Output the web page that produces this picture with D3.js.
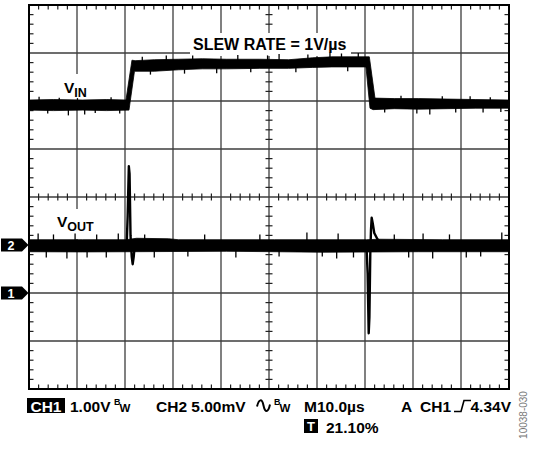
<!DOCTYPE html>
<html>
<head>
<meta charset="utf-8">
<script src="https://cdn.jsdelivr.net/npm/d3@7"></script>
<style>
  html, body { margin: 0; padding: 0; background: #fff; }
  svg { display: block; font-family: "Liberation Sans", Arial, Helvetica, sans-serif; }
</style>
</head>
<body>
<script>
// ---------- scope settings (from the readout) ----------
const timeDomain = [-21.1, 78.9];   // µs  (M10.0µs, trigger position 21.10%)
const ch1Domain = [-2, 6];          // V   (CH1 1.00V/div, ground marker 2 div below centre)
const ch2Domain = [-15, 25];        // mV  (CH2 5.00mV/div, ground marker 1 div below centre)
const divsX = 10, divsY = 8, minorPerDiv = 5;
const ch1Ground = 0, ch2Ground = 0;

// ---------- CH1 : V_IN envelope (time µs, volts) ----------
const vinTop = [
  [-21.1, 4.02], [-16, 4.03], [-10, 4.02], [-5, 4.03], [-0.9, 4.02],
  [0.35, 4.85], [1.0, 4.84], [5, 4.86], [10, 4.87], [15, 4.88], [20, 4.87],
  [27, 4.87], [33, 4.86], [38, 4.90], [42, 4.92], [46, 4.92], [49.8, 4.92],
  [50.98, 4.06], [55, 4.05], [60, 4.05], [66, 4.04], [72, 4.03], [78.9, 4.02]
];
const vinBottom = [
  [-21.1, 3.81], [-16, 3.80], [-10, 3.81], [-5, 3.80], [-0.27, 3.81],
  [0.875, 4.62], [5, 4.62], [10, 4.65], [15, 4.67], [20, 4.67],
  [27, 4.68], [33, 4.68], [38, 4.70], [42, 4.71], [49.1, 4.71],
  [49.94, 3.85], [50.6, 3.82], [55, 3.84], [60, 3.83], [66, 3.84], [72, 3.85], [78.9, 3.85]
];
// short noise spikes on the CH1 trace: [time, low V, high V]
const vinGlitches = [
  [-19.0, 3.90, 4.09], [-17.2, 3.74, 3.90], [-14.8, 3.90, 4.07], [-12.9, 3.70, 3.90],
  [-11.0, 3.90, 4.06], [-9.5, 3.72, 3.90], [-7.3, 3.75, 3.90], [-4.0, 3.90, 4.08],
  [-2.2, 3.74, 3.90], [2.5, 4.70, 4.92], [4.2, 4.55, 4.75], [7.5, 4.70, 4.95],
  [11.3, 4.57, 4.75], [13.0, 4.75, 4.95], [18.0, 4.58, 4.75], [22.4, 4.78, 4.96],
  [25.1, 4.60, 4.75], [28.6, 4.78, 4.95], [31.0, 4.78, 4.98], [34.5, 4.60, 4.75],
  [37.0, 4.80, 4.97], [41.6, 4.80, 5.01], [44.0, 4.80, 4.99], [45.3, 4.62, 4.78],
  [47.5, 4.80, 5.00], [53.0, 3.76, 3.90], [56.4, 3.95, 4.11], [59.7, 3.74, 3.90],
  [62.4, 3.72, 3.90], [65.0, 3.95, 4.10], [67.8, 3.76, 3.90], [70.8, 3.95, 4.10],
  [73.5, 3.76, 3.90], [75.0, 3.95, 4.08], [77.2, 3.77, 3.90]
];

// ---------- CH2 : V_OUT envelope (time µs, millivolts) ----------
const voutTop = [
  [-21.1, 0.55], [-10, 0.55], [-0.8, 0.55], [1.3, 0.70], [8, 0.65], [10, 0.55],
  [30, 0.55], [49.2, 0.55], [52, 0.60], [65, 0.55], [78.9, 0.55]
];
const voutBottom = [
  [-21.1, -0.70], [-10, -0.72], [0, -0.70], [20, -0.65], [40, -0.75],
  [60, -0.70], [78.9, -0.70]
];
// switching transients on V_OUT (time µs, mV)
const voutRiseTransient = [
  [-0.75, 0], [-0.55, 3.0], [-0.3, 8.2], [-0.15, 7.4], [0.05, 1.0],
  [0.3, -1.2], [0.5, -2.0], [0.72, -1.2], [0.95, 0.1], [1.25, 0.5]
];
const voutFallTransient = [
  [49.2, 0], [49.45, -3.0], [49.67, -9.2], [49.82, -7.5], [50.0, -1.0],
  [50.15, 1.6], [50.29, 2.84], [50.5, 2.3], [50.83, 1.25], [51.5, 0.6], [52.2, 0.3]
];
const voutGlitches = [
  [-19.2, 0, 1.2], [-17.5, -1.3, 0], [-16.0, 0, 1.1], [-13.2, -1.4, 0], [-11.5, 0, 1.2],
  [-9.0, -1.3, 0], [-7.0, 0, 1.1], [-5.0, -1.3, 0], [-2.5, 0, 1.2], [3.0, 0, 1.1],
  [5.0, -1.3, 0], [12.0, -1.2, 0], [15.5, 0, 1.1], [22.0, -1.3, 0], [27.0, 0, 1.1],
  [31.0, -1.2, 0], [36.8, 0, 1.3], [40.0, -1.2, 0], [43.0, -1.4, 0], [43.3, 0, 1.2],
  [46.5, -1.3, 0], [55.0, 0, 1.1], [58.0, -1.3, 0], [61.0, 0, 1.2], [63.0, -1.4, 0],
  [66.5, 0, 1.1], [70.0, -1.3, 0], [73.0, -1.2, 0], [77.4, 0, 1.3]
];

// ---------- text ----------
const slewLabel = "SLEW RATE = 1V/µs";
const readoutLine1 = { ch1Tag: "CH1", ch1Scale: "1.00V", ch2: "CH2 5.00mV", time: "M10.0µs",
                       trigA: "A", trigSrc: "CH1", trigLevel: "4.34V" };
const readoutLine2 = { tag: "T", pos: "21.10%" };
const figureId = "10038-030";

// ---------- layout ----------
const W = 533, H = 450;
const plot = { left: 29, right: 509, top: 5, bottom: 389 };

const svg = d3.select("body").append("svg").attr("width", W).attr("height", H);

const x = d3.scaleLinear().domain(timeDomain).range([plot.left, plot.right]);
const y1 = d3.scaleLinear().domain(ch1Domain).range([plot.bottom, plot.top]);
const y2 = d3.scaleLinear().domain(ch2Domain).range([plot.bottom, plot.top]);
const gx = d3.scaleLinear().domain([0, divsX]).range([plot.left, plot.right]);
const gy = d3.scaleLinear().domain([0, divsY]).range([plot.top, plot.bottom]);

// grid
const grid = svg.append("g");
grid.selectAll(".vx").data(d3.range(1, divsX)).join("line")
  .attr("x1", d => gx(d)).attr("x2", d => gx(d))
  .attr("y1", plot.top).attr("y2", plot.bottom)
  .attr("stroke", "#3c3c3c").attr("stroke-width", 1.3);
grid.selectAll(".hy").data(d3.range(1, divsY)).join("line")
  .attr("y1", d => gy(d)).attr("y2", d => gy(d))
  .attr("x1", plot.left).attr("x2", plot.right)
  .attr("stroke", "#3c3c3c").attr("stroke-width", 1.3);

// minor ticks
const minorX = d3.range(1, divsX * minorPerDiv).filter(i => i % minorPerDiv !== 0).map(i => i / minorPerDiv);
const minorY = d3.range(1, divsY * minorPerDiv).filter(i => i % minorPerDiv !== 0).map(i => i / minorPerDiv);
const tickCol = "#222";
const cy = gy(divsY / 2), cx = gx(divsX / 2);
grid.selectAll(".tcx").data(minorX).join("line")
  .attr("x1", d => gx(d)).attr("x2", d => gx(d)).attr("y1", cy - 3.5).attr("y2", cy + 3.5)
  .attr("stroke", tickCol).attr("stroke-width", 1.2);
grid.selectAll(".tcy").data(minorY).join("line")
  .attr("y1", d => gy(d)).attr("y2", d => gy(d)).attr("x1", cx - 3.5).attr("x2", cx + 3.5)
  .attr("stroke", tickCol).attr("stroke-width", 1.2);
grid.selectAll(".tt").data(minorX).join("line")
  .attr("x1", d => gx(d)).attr("x2", d => gx(d)).attr("y1", plot.top).attr("y2", plot.top + 4.5)
  .attr("stroke", tickCol).attr("stroke-width", 1.2);
grid.selectAll(".tb").data(minorX).join("line")
  .attr("x1", d => gx(d)).attr("x2", d => gx(d)).attr("y1", plot.bottom - 4.5).attr("y2", plot.bottom)
  .attr("stroke", tickCol).attr("stroke-width", 1.2);
grid.selectAll(".tl").data(minorY).join("line")
  .attr("y1", d => gy(d)).attr("y2", d => gy(d)).attr("x1", plot.left).attr("x2", plot.left + 4.5)
  .attr("stroke", tickCol).attr("stroke-width", 1.2);
grid.selectAll(".tr").data(minorY).join("line")
  .attr("y1", d => gy(d)).attr("y2", d => gy(d)).attr("x1", plot.right - 4.5).attr("x2", plot.right)
  .attr("stroke", tickCol).attr("stroke-width", 1.2);

// label backgrounds (cover the graticule)
const labels = svg.append("g");
labels.append("rect").attr("x", 190).attr("y", 33).attr("width", 161).attr("height", 23).attr("fill", "#fff");
labels.append("rect").attr("x", 58).attr("y", 74).attr("width", 38).attr("height", 26).attr("fill", "#fff");
labels.append("rect").attr("x", 52).attr("y", 209).attr("width", 48).attr("height", 30).attr("fill", "#fff");

labels.append("text").attr("x", 193).attr("y", 49.5)
  .attr("font-size", 16).attr("font-weight", "bold").text(slewLabel);

const vin = labels.append("text").attr("x", 64).attr("y", 93)
  .attr("font-size", 15.5).attr("font-weight", "bold");
vin.append("tspan").text("V");
vin.append("tspan").attr("font-size", 12.5).attr("dy", 4).text("IN");

const vout = labels.append("text").attr("x", 57).attr("y", 227)
  .attr("font-size", 15.5).attr("font-weight", "bold");
vout.append("tspan").text("V");
vout.append("tspan").attr("font-size", 12.5).attr("dy", 4).text("OUT");

// traces
const traces = svg.append("g");
function band(top, bottom, ys) {
  const pts = top.concat(bottom.slice().reverse());
  return d3.line().x(d => x(d[0])).y(d => ys(d[1]))(pts) + "Z";
}
traces.append("path").attr("d", band(vinTop, vinBottom, y1)).attr("fill", "#000")
  .attr("stroke", "#000").attr("stroke-width", 0.8).attr("stroke-linejoin", "round");
traces.selectAll(".g1").data(vinGlitches).join("line")
  .attr("x1", d => x(d[0])).attr("x2", d => x(d[0]))
  .attr("y1", d => y1(d[1])).attr("y2", d => y1(d[2]))
  .attr("stroke", "#000").attr("stroke-width", 1.3);

traces.append("path").attr("d", band(voutTop, voutBottom, y2)).attr("fill", "#000")
  .attr("stroke", "#000").attr("stroke-width", 0.8);
traces.selectAll(".g2").data(voutGlitches).join("line")
  .attr("x1", d => x(d[0])).attr("x2", d => x(d[0]))
  .attr("y1", d => y2(d[1])).attr("y2", d => y2(d[2]))
  .attr("stroke", "#000").attr("stroke-width", 1.3);
const tline = d3.line().x(d => x(d[0])).y(d => y2(d[1]));
traces.append("path").attr("d", tline(voutRiseTransient)).attr("fill", "none")
  .attr("stroke", "#000").attr("stroke-width", 2.4).attr("stroke-linejoin", "round");
traces.append("path").attr("d", tline(voutFallTransient)).attr("fill", "none")
  .attr("stroke", "#000").attr("stroke-width", 2.4).attr("stroke-linejoin", "round");

// border
svg.append("rect").attr("x", plot.left).attr("y", plot.top)
  .attr("width", plot.right - plot.left).attr("height", plot.bottom - plot.top)
  .attr("fill", "none").attr("stroke", "#000").attr("stroke-width", 2);

// channel ground markers
const markers = [{ label: "2", y: y2(ch2Ground) }, { label: "1", y: y1(ch1Ground) }];
const mk = svg.append("g").selectAll("g").data(markers).join("g");
mk.append("path").attr("d", d => `M1,${d.y - 6.5}H22L28.5,${d.y}L22,${d.y + 6.5}H1Z`).attr("fill", "#000");
mk.append("text").attr("x", 11).attr("y", d => d.y + 4.5).attr("text-anchor", "middle")
  .attr("fill", "#fff").attr("font-size", 12.5).attr("font-weight", "bold").text(d => d.label);

// readout
const ro = svg.append("g").attr("font-weight", "bold").attr("font-size", 15.5);
const base1 = 411.5, base2 = 432.5;
ro.append("rect").attr("x", 27).attr("y", 398).attr("width", 38).attr("height", 15).attr("fill", "#000");
ro.append("text").attr("x", 46).attr("y", base1).attr("text-anchor", "middle").attr("fill", "#fff")
  .text(readoutLine1.ch1Tag);
ro.append("text").attr("x", 70).attr("y", base1).text(readoutLine1.ch1Scale);
function bw(xp) {
  ro.append("text").attr("x", xp).attr("y", base1 - 6.5).attr("font-size", 9).text("B");
  ro.append("text").attr("x", xp + 5.5).attr("y", base1 + 0.5).attr("font-size", 11.5).text("W");
}
bw(114);
ro.append("text").attr("x", 156).attr("y", base1).text(readoutLine1.ch2);
ro.append("path").attr("d", `M257,${base1 - 5} C259,${base1 - 13} 262,${base1 - 13} 263.5,${base1 - 6} S268,${base1 + 2} 270,${base1 - 7}`)
  .attr("fill", "none").attr("stroke", "#000").attr("stroke-width", 2);
bw(274);
ro.append("text").attr("x", 304).attr("y", base1).text(readoutLine1.time);
ro.append("text").attr("x", 401).attr("y", base1).text(readoutLine1.trigA);
ro.append("text").attr("x", 420).attr("y", base1).text(readoutLine1.trigSrc);
ro.append("path").attr("d", `M454,${base1} H461 L464,${base1 - 11} H471`)
  .attr("fill", "none").attr("stroke", "#000").attr("stroke-width", 1.6);
ro.append("text").attr("x", 511).attr("y", base1).attr("text-anchor", "end").text(readoutLine1.trigLevel);

ro.append("rect").attr("x", 304).attr("y", 419).attr("width", 14).attr("height", 14).attr("fill", "#000");
ro.append("text").attr("x", 311).attr("y", base2 - 1.5).attr("text-anchor", "middle").attr("fill", "#fff")
  .attr("font-size", 13).text(readoutLine2.tag);
ro.append("text").attr("x", 326).attr("y", base2).text(readoutLine2.pos);

// figure id
svg.append("text").attr("transform", "translate(527,415) rotate(-90)")
  .attr("text-anchor", "middle").attr("font-size", 10).attr("fill", "#777")
  .text(figureId);
</script>
</body>
</html>
